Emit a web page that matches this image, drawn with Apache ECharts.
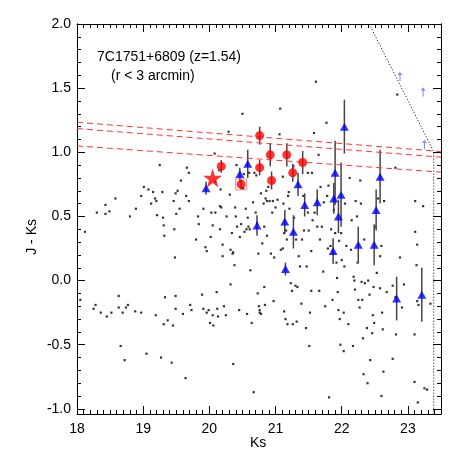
<!DOCTYPE html>
<html><head><meta charset="utf-8">
<script src="https://cdn.jsdelivr.net/npm/echarts@6/dist/echarts.min.js"></script>
<style>html,body{margin:0;padding:0;background:#fff}#c{width:463px;height:463px}</style>
</head><body><div id="c"></div>
<script>
const dots = [[18.05,-0.15],[18.12,0.38],[18.25,-0.22],[18.28,-0.19],[18.3,0.53],[18.36,-0.25],[18.43,0.59],[18.43,0.52],[18.45,-0.28],[18.49,0.54],[18.52,-0.25],[18.58,0.64],[18.63,-0.12],[18.63,-0.21],[18.66,-0.51],[18.69,-0.25],[18.72,-0.62],[18.74,-0.21],[18.77,-0.19],[18.8,0.50],[18.88,-0.24],[18.89,0.56],[18.97,-0.25],[18.97,0.66],[19.01,0.73],[19.05,-0.57],[19.08,0.71],[19.12,0.60],[19.15,0.69],[19.18,0.64],[19.19,-0.27],[19.2,0.62],[19.21,0.51],[19.25,0.90],[19.27,-0.6],[19.29,0.69],[19.3,0.49],[19.31,-0.34],[19.31,0.43],[19.32,0.35],[19.33,-0.13],[19.37,-0.31],[19.43,-0.64],[19.45,-0.35],[19.46,0.62],[19.47,0.40],[19.48,0.18],[19.49,-0.12],[19.49,-0.22],[19.49,0.68],[19.5,0.52],[19.52,0.70],[19.55,0.56],[19.57,0.78],[19.6,-0.26],[19.64,-0.76],[19.65,0.66],[19.66,0.88],[19.69,0.84],[19.69,0.62],[19.71,-0.19],[19.73,-0.23],[19.8,0.32],[19.83,0.5],[19.84,0.44],[19.89,-0.11],[19.91,-0.22],[19.91,0.56],[19.94,0.26],[19.96,0.23],[19.96,-0.25],[19.99,-0.23],[20.01,-0.33],[20.02,0.34],[20.03,0.53],[20.05,0.43],[20.05,-0.27],[20.06,-0.35],[20.08,0.99],[20.09,0.77],[20.09,0.53],[20.11,-0.09],[20.12,-0.22],[20.13,-0.28],[20.15,0.86],[20.16,0.58],[20.16,0.4],[20.17,0.71],[20.18,0.57],[20.2,0.19],[20.2,0.28],[20.22,-0.2],[20.25,-0.27],[20.26,0.5],[20.29,1.16],[20.31,0.67],[20.32,-0.03],[20.32,0.24],[20.34,0.37],[20.35,0.21],[20.36,-0.65],[20.36,0.22],[20.38,0.12],[20.39,0.57],[20.4,0.5],[20.41,0.9],[20.42,0.42],[20.45,-0.23],[20.46,0.34],[20.48,0.44],[20.5,1.30],[20.51,0.72],[20.52,0.83],[20.53,0.38],[20.55,0.56],[20.56,0.4],[20.57,-0.26],[20.58,0.49],[20.59,0.42],[20.6,0.84],[20.61,0.4],[20.62,0.08],[20.64,-0.33],[20.66,0.61],[20.67,-0.87],[20.68,0.84],[20.7,0.53],[20.71,0.82],[20.72,0.45],[20.73,-0.1],[20.74,0.21],[20.75,-0.2],[20.76,-0.25],[20.76,-0.23],[20.78,0.68],[20.78,-0.26],[20.8,0.29],[20.82,0.6],[20.83,-0.05],[20.83,0.42],[20.84,-0.19],[20.85,0.64],[20.86,0.70],[20.87,0.35],[20.87,0.62],[20.89,0.73],[20.91,0.62],[20.93,0.21],[20.95,0.53],[20.96,0.62],[20.97,-0.16],[20.98,0.18],[21.0,0.57],[21.03,0.63],[21.06,1.14],[21.07,1.34],[21.08,0.24],[21.11,0.25],[21.11,0.81],[21.12,0.6],[21.13,-0.24],[21.13,0.37],[21.15,-0.3],[21.16,0.39],[21.17,0.32],[21.18,-0.34],[21.19,0.66],[21.2,0.69],[21.21,0.56],[21.23,-0.02],[21.25,-0.08],[21.26,-0.34],[21.27,0.89],[21.28,0.49],[21.3,-0.04],[21.31,0.32],[21.32,-0.32],[21.33,-0.05],[21.35,0.19],[21.37,0.11],[21.39,-0.18],[21.4,0.32],[21.42,0.66],[21.43,0.39],[21.46,-0.37],[21.47,0.11],[21.49,0.84],[21.49,0.53],[21.5,0.39],[21.51,-0.51],[21.52,-0.25],[21.54,0.23],[21.54,-0.08],[21.55,0.84],[21.56,0.47],[21.58,1.15],[21.59,0.53],[21.61,1.55],[21.63,0.42],[21.65,0.98],[21.66,-0.08],[21.67,0.32],[21.68,0.73],[21.7,0.42],[21.72,0.07],[21.73,0.61],[21.75,-0.2],[21.77,1.23],[21.78,0.66],[21.79,0.25],[21.8,0.74],[21.81,-0.91],[21.83,0.27],[21.84,0.40],[21.86,-0.15],[21.87,0.21],[21.88,0.55],[21.9,0.37],[21.92,0.14],[21.93,0.02],[21.94,-0.09],[21.95,-0.23],[21.96,0.31],[21.97,-0.3],[21.98,-0.5],[21.99,0.37],[22.0,0.16],[22.03,-0.55],[22.03,-0.25],[22.04,0.11],[22.05,0.6],[22.07,0.27],[22.1,-0.34],[22.12,0.8],[22.14,0.24],[22.15,0.47],[22.17,-0.51],[22.18,0.03],[22.19,0.0],[22.2,-0.07],[22.21,0.62],[22.23,0.5],[22.24,0.14],[22.25,-0.15],[22.27,-0.21],[22.28,0.78],[22.29,0.6],[22.3,-0.01],[22.31,-0.15],[22.32,-0.45],[22.33,-0.73],[22.34,0.32],[22.35,-0.02],[22.38,-0.37],[22.39,-0.8],[22.4,0.0],[22.42,-0.11],[22.43,-0.62],[22.46,-0.41],[22.47,-0.27],[22.48,-0.05],[22.49,-0.33],[22.51,0.42],[22.53,0.06],[22.55,0.64],[22.58,-0.06],[22.58,0.19],[22.6,0.27],[22.6,-0.9],[22.61,-0.25],[22.62,-0.38],[22.63,-0.71],[22.64,0.62],[22.68,-0.09],[22.77,-0.04],[22.77,-0.61],[22.81,-0.13],[22.81,0.88],[22.82,-0.42],[22.84,1.45],[22.88,0.18],[22.91,-0.21],[22.94,-0.03],[23.1,-0.79],[23.1,-0.42],[23.11,0.62],[23.11,0.38],[23.13,0.12],[23.14,0.28],[23.14,-0.16],[23.15,-0.95],[23.16,-0.19],[23.23,0.58],[23.25,-0.84],[23.29,-0.85],[23.34,-0.18]];
const redCircles = [[20.18,0.89,0.05],[20.76,1.13,0.07],[20.92,0.98,0.09],[20.76,0.88,0.06],[20.94,0.78,0.07],[21.17,0.98,0.09],[21.26,0.84,0.07],[21.41,0.92,0.09],[20.48,0.75,0.04]];
const redSquare = [[20.48,0.75]];
const star = [[20.05,0.80]];
// [Ks, J-Ks, error]
const blueTri = [[19.95,0.72,0.05],[20.46,0.83,0.05],[20.58,0.91,0.11],[20.72,0.43,0.08],[21.14,0.46,0.09],[21.15,0.09,0.05],[21.27,0.38,0.13],[21.34,0.75,0.09],[21.44,0.59,0.09],[21.63,0.61,0.10],[21.87,0.23,0.10],[21.88,0.64,0.12],[21.9,0.84,0.25],[21.95,0.50,0.13],[21.99,0.67,0.25],[22.04,1.2,0.21],[22.25,0.28,0.14],[22.49,0.28,0.16],[22.52,0.55,0.16],[22.58,0.81,0.21],[22.83,-0.14,0.17],[23.21,-0.11,0.21]];
const blueArrows = [[22.88,1.59],[23.23,1.47],[23.25,1.06]];
const dash1 = [[18,1.234],[23.5,1.006]];
const dash2 = [[18,1.185],[23.5,0.962]];
const dash3 = [[18,1.05],[23.5,0.845]];
const dotLine = [[22.415,2.0],[23.39,1.006],[23.39,-1.04]];
const yMajor = [-1,-0.5,0,0.5,1,1.5,2];
const yMinor = []; for (let i=-10;i<=20;i++) yMinor.push(i/10);
const font = 'Liberation Sans, Arial, sans-serif';
const errSeries = (data) => ({
  type:'custom', data, z:2, silent:true,
  renderItem(p, api){
    const a = api.coord([api.value(0), api.value(1)-api.value(2)]);
    const b = api.coord([api.value(0), api.value(1)+api.value(2)]);
    return {type:'line', shape:{x1:a[0],y1:a[1],x2:b[0],y2:b[1]}, style:{stroke:'#444',lineWidth:1.5}};
  }
});
const yAx = (pos, custom, len, label) => ({
  type:'value', min:-1.04, max:2, position:pos, splitLine:{show:false},
  axisLine:{show:true, onZero:false, lineStyle:{color:'#000',width:1}},
  axisTick:{show:true, inside:true, length:len, customValues:custom, lineStyle:{color:'#000'}},
  axisLabel:{show:label, customValues:yMajor, formatter:v=>v.toFixed(1), color:'#000', fontSize:14, fontFamily:font, margin:6}
});
const xAx = (pos, len, label) => ({
  type:'value', min:18, max:23.5, interval:1, position:pos, splitLine:{show:false},
  axisLine:{show:true, onZero:false, lineStyle:{color:'#000',width:1}},
  axisTick:{show:true, inside:true, length:len, lineStyle:{color:'#000'}},
  minorTick:{show:true, splitNumber:10, length:4, lineStyle:{color:'#000'}},
  axisLabel:{show:label, color:'#000', fontSize:14, fontFamily:font, margin:8, showMaxLabel:false}
});
const chart = echarts.init(document.getElementById('c'));
chart.setOption({
  animation:false,
  grid:{left:77, right:22, top:24, bottom:49},
  xAxis:[xAx('bottom',8,true), xAx('top',8,false)],
  yAxis:[yAx('left',yMajor,8,true), yAx('right',yMajor,8,false), yAx('left',yMinor,4,false), yAx('right',yMinor,4,false)],
  graphic:[
    {type:'text', left:97, top:50, style:{text:'7C1751+6809 (z=1.54)', fontSize:14, fontFamily:font, fill:'#000'}},
    {type:'text', left:111, top:69, style:{text:'(r < 3 arcmin)', fontSize:14, fontFamily:font, fill:'#000'}},
    {type:'text', left:250, top:436, style:{text:'Ks', fontSize:14, fontFamily:font, fill:'#000', align:'center'}},
    {type:'text', left:25, top:219, rotation:Math.PI/2, style:{text:'J - Ks', fontSize:14, fontFamily:font, fill:'#000', align:'center', verticalAlign:'middle'}}
  ],
  series:[
    {type:'scatter', data:dots, symbol:'rect', symbolSize:2.2, itemStyle:{color:'#000'}, z:1},
    {type:'line', data:dash1, showSymbol:false, lineStyle:{color:'#f33',type:[6,4],width:1}, z:3},
    {type:'line', data:dash2, showSymbol:false, lineStyle:{color:'#f33',type:[6,4],width:1}, z:3},
    {type:'line', data:dash3, showSymbol:false, lineStyle:{color:'#f33',type:[6,4],width:1}, z:3},
    {type:'line', data:dotLine, showSymbol:false, lineStyle:{color:'#000',type:[1,2],width:1}, z:3},
    errSeries(redCircles), errSeries(blueTri),
    {type:'scatter', data:redCircles, symbol:'circle', symbolSize:9, itemStyle:{color:'#f00'}, z:5},
    {type:'scatter', data:redSquare, symbol:'rect', symbolSize:11, itemStyle:{color:'none', borderColor:'#f66', borderWidth:1}, z:5},
    {type:'scatter', data:star, symbol:'path://M50,0 L61,35 L98,35 L68,57 L79,91 L50,70 L21,91 L32,57 L2,35 L39,35 Z', symbolSize:19, itemStyle:{color:'#f00'}, z:6},
    {type:'scatter', data:blueTri, symbol:'triangle', symbolSize:[9,8], itemStyle:{color:'#0000ff'}, z:5},
    {type:'scatter', data:blueArrows, symbol:'path://M5,0 L10,6 L6,6 L6,18 L4,18 L4,6 L0,6 Z', symbolSize:[5,9], itemStyle:{color:'#66f'}, z:5}
  ]
});
</script></body></html>
